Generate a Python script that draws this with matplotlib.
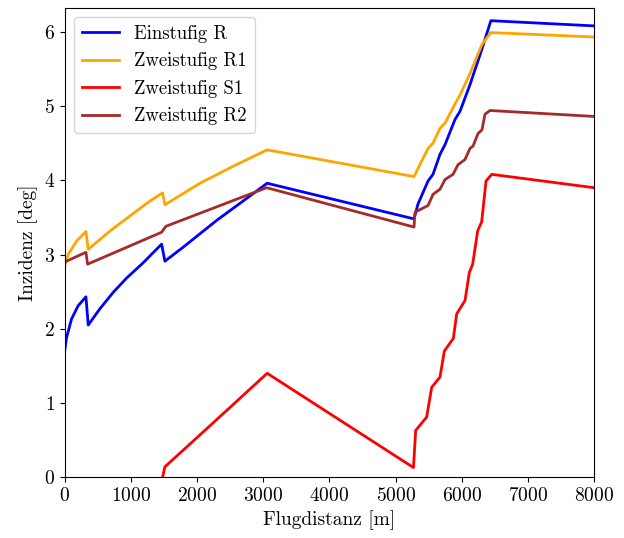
import numpy as np
import matplotlib
matplotlib.use("Agg")
import matplotlib.pyplot as plt

plt.rcParams['font.family'] = 'serif'
plt.rcParams['font.serif'] = ['cmr10', 'DejaVu Serif']
plt.rcParams['mathtext.fontset'] = 'cm'
plt.rcParams['axes.formatter.use_mathtext'] = True
plt.rcParams['axes.unicode_minus'] = False

# Einstufig R
x_r = [0, 25, 100, 200, 318, 353, 530, 730, 930, 1185, 1462, 1512, 1790, 2295, 2800, 3058,
       5278, 5338, 5490, 5565, 5671, 5747, 5898, 5974, 6125, 6306, 6440, 8000]
y_r = [1.72, 1.88, 2.13, 2.31, 2.43, 2.05, 2.27, 2.49, 2.68, 2.89, 3.14, 2.91, 3.10, 3.46, 3.79, 3.96,
       3.48, 3.68, 3.99, 4.08, 4.35, 4.48, 4.82, 4.93, 5.29, 5.77, 6.15, 6.08]

# Zweistufig R1
x_r1 = [0, 50, 176, 318, 353, 700, 1000, 1285, 1477, 1512, 2042, 2545, 3058,
        5278, 5490, 5565, 5671, 5747, 5898, 5974, 6125, 6306, 6440, 8000]
y_r1 = [2.86, 3.00, 3.18, 3.31, 3.07, 3.33, 3.53, 3.72, 3.83, 3.67, 3.96, 4.19, 4.41,
        4.05, 4.43, 4.50, 4.70, 4.77, 5.03, 5.15, 5.44, 5.83, 5.99, 5.93]

# Zweistufig S1
x_s1 = [1477, 1512, 2042, 2545, 3058, 5270, 5303, 5469, 5545, 5671, 5737, 5873, 5923,
        6049, 6115, 6165, 6241, 6301, 6367, 6453, 8000]
y_s1 = [0.0, 0.14, 0.57, 0.98, 1.40, 0.13, 0.63, 0.81, 1.21, 1.35, 1.70, 1.87, 2.20,
        2.38, 2.76, 2.87, 3.32, 3.44, 3.99, 4.08, 3.90]

# Zweistufig R2
x_r2 = [0, 318, 343, 1462, 1527, 3050, 5278, 5293, 5490, 5565, 5671, 5747, 5868, 5943,
        6049, 6125, 6170, 6246, 6306, 6351, 6427, 8000]
y_r2 = [2.90, 3.03, 2.87, 3.30, 3.38, 3.90, 3.37, 3.57, 3.66, 3.81, 3.88, 4.01, 4.08, 4.21,
        4.28, 4.43, 4.46, 4.63, 4.68, 4.89, 4.94, 4.86]

fig = plt.figure(figsize=(6.24, 5.38), dpi=100)
ax = fig.add_axes([0.104, 0.113, 0.848, 0.872])

ax.plot(x_r, y_r, color='blue', lw=2, label='Einstufig R')
ax.plot(x_r1, y_r1, color='orange', lw=2, label='Zweistufig R1')
ax.plot(x_s1, y_s1, color='red', lw=2, label='Zweistufig S1')
ax.plot(x_r2, y_r2, color='brown', lw=2, label='Zweistufig R2')

ax.set_xlim(0, 8000)
ax.set_ylim(0, 6.32)
ax.set_xticks(np.arange(0, 8001, 1000))
ax.set_yticks(np.arange(0, 7, 1))
ax.tick_params(labelsize=14)
ax.set_xlabel('Flugdistanz [m]', fontsize=14)
ax.set_ylabel('Inzidenz [deg]', fontsize=14)
ax.legend(loc='upper left', fontsize=13.5)

fig.savefig("out.png", dpi=100)
